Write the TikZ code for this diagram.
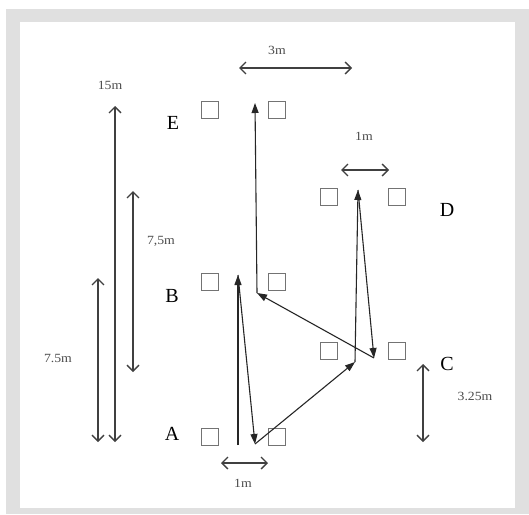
\documentclass[tikz,border=0pt]{standalone}
\usepackage{fontspec}
\setmainfont{Liberation Serif}
\usetikzlibrary{arrows.meta}
\begin{document}
\begin{tikzpicture}[x=1pt,y=-1pt,
  post/.style={draw=black!55, line width=1pt, minimum size=17pt, inner sep=0pt},
  letter/.style={font=\fontsize{20}{20}\selectfont, inner sep=0pt},
  dimlabel/.style={font=\fontsize{12.5}{12.5}\selectfont, text=black!70, inner sep=0pt, xscale=1.1},
  dimarrow/.style={draw=black!75, line width=1.3pt, {Straight Barb[length=6pt,width=12pt]}-{Straight Barb[length=6pt,width=12pt]}},
  run/.style={draw=black!85, line width=1.1pt, -{Triangle[length=10pt,width=7pt]}}]
% frame
\useasboundingbox (0,0) rectangle (529,514);
\fill[white] (0,0) rectangle (529,514);
\fill[black!12] (6,9) rectangle (529,514);
\fill[white] (20,22) rectangle (515,508);
% posts
\node[post] (E1) at (210,110) {};
\node[post] (E2) at (277,110) {};
\node[post] (D1) at (329,197) {};
\node[post] (D2) at (397,197) {};
\node[post] (B1) at (210,282) {};
\node[post] (B2) at (277,282) {};
\node[post] (C1) at (329,351) {};
\node[post] (C2) at (397,351) {};
\node[post] (A1) at (210,437) {};
\node[post] (A2) at (277,437) {};
% letters
\node[letter] (LE) at (173,123) {E};
\node[letter] (LD) at (447,210) {D};
\node[letter] (LB) at (172,296) {B};
\node[letter] (LC) at (447,364) {C};
\node[letter] (LA) at (172,434) {A};
% run path
\coordinate (p0) at (238,445);
\coordinate (p1) at (238,275);
\coordinate (p2) at (255,444);
\coordinate (p3) at (355,362);
\coordinate (p4) at (358,190);
\coordinate (p5) at (374,358);
\coordinate (p6) at (257,293);
\coordinate (p7) at (255,103);
\draw[run] (p0) -- (p1);
\draw[run] (p1) -- (p2);
\draw[run] (p2) -- (p3);
\draw[run] (p3) -- (p4);
\draw[run] (p4) -- (p5);
\draw[run] (p5) -- (p6);
\draw[run] (p6) -- (p7);
% dimensions
\coordinate (d3a) at (239,68); \coordinate (d3b) at (352,68);
\draw[dimarrow] (d3a) -- (d3b);
\node[dimlabel] (t3) at (277,50) {3m};
\coordinate (d15a) at (115,106); \coordinate (d15b) at (115,442);
\draw[dimarrow] (d15a) -- (d15b);
\node[dimlabel] (t15) at (110,85) {15m};
\coordinate (d75a) at (133,191); \coordinate (d75b) at (133,372);
\draw[dimarrow] (d75a) -- (d75b);
\node[dimlabel] (t75a) at (161,241) {7,5m};
\coordinate (d75c) at (98,278); \coordinate (d75d) at (98,442);
\draw[dimarrow] (d75c) -- (d75d);
\node[dimlabel] (t75b) at (58,358) {7.5m};
\coordinate (d1a) at (341,170); \coordinate (d1b) at (389,170);
\draw[dimarrow] (d1a) -- (d1b);
\node[dimlabel] (t1a) at (364,136) {1m};
\coordinate (d1c) at (221,463); \coordinate (d1d) at (268,463);
\draw[dimarrow] (d1c) -- (d1d);
\node[dimlabel] (t1b) at (243,483) {1m};
\coordinate (d325a) at (423,364); \coordinate (d325b) at (423,442);
\draw[dimarrow] (d325a) -- (d325b);
\node[dimlabel] (t325) at (475,396) {3.25m};
\end{tikzpicture}
\end{document}
